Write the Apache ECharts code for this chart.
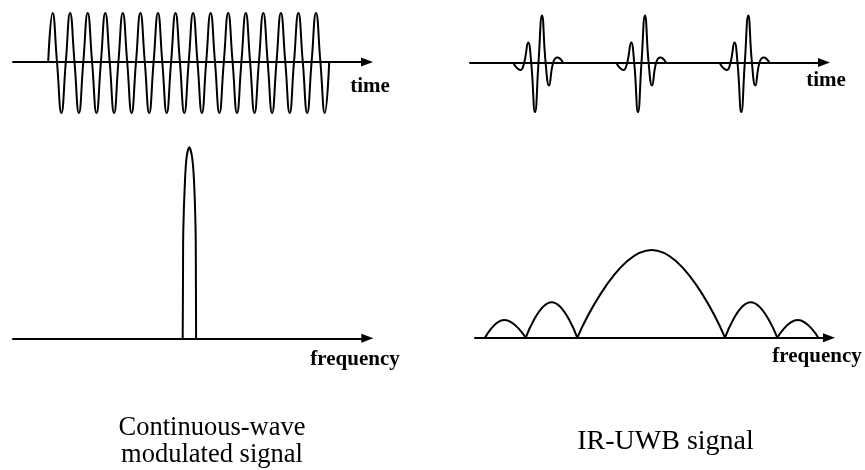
<!DOCTYPE html>
<html><head><meta charset="utf-8">
<script src="https://cdn.jsdelivr.net/npm/echarts@6/dist/echarts.min.js"></script>
<style>html,body{margin:0;padding:0;background:#fff}#chart{width:865px;height:470px}</style>
</head><body><div id="chart"></div>
<script>
// ---- Continuous-wave signal in time ----
const cwZeroTimes = [48.2, 57.0, 65.8, 74.5, 83.3, 92.1, 100.9, 109.7, 118.4, 127.2, 136.0, 144.8, 153.6, 162.3, 171.1, 179.9, 188.7, 197.5, 206.2, 215.0, 223.8, 232.6, 241.4, 250.1, 258.9, 267.7, 276.5, 285.3, 294.0, 302.8, 311.6, 320.4, 329.2];
const cwPeakTimes = [52.6, 70.1, 87.7, 105.3, 122.8, 140.4, 158.0, 175.5, 193.1, 210.6, 228.2, 245.8, 263.3, 280.9, 298.4, 316.0];
const cwTroughTimes = [61.4, 78.9, 96.5, 114.1, 131.6, 149.2, 166.7, 184.3, 201.9, 219.4, 237.0, 254.5, 272.1, 289.7, 307.2, 324.8];
const cwPeakAmp = 49;
const cwTroughAmp = -51;

// ---- IR-UWB pulses in time ----
const pulseCenters = [542, 645, 748.3];
const pulseShapeT = [-29, -21.5, -17.8, -13.8, -10.8, -7, -3.5, 0, 3.6, 7, 11.2, 15.3, 21];
const pulseShapeV = [0, -7.5, 0, 20, 0, -49.5, 0, 47, 0, -23, 0, 5, 0];

// ---- Continuous-wave spectrum (narrow line) ----
const cwSpecFreq = [182.7, 183.0, 183.3, 185.0, 186.7, 189.3, 192.0, 194.0, 195.6, 195.9, 196.1];
const cwSpecMag  = [0, 60, 108, 158, 181.6, 191, 181.6, 158, 108, 60, 0];

// ---- IR-UWB spectrum lobes ----
const lobeStart = [485, 525.7, 577.3, 725, 777.3];
const lobePeak  = [504.3, 551.7, 651.7, 750.7, 797.7];
const lobeEnd   = [525.7, 577.3, 725, 777.3, 818.3];
const lobeMag   = [17.7, 35.4, 87.7, 35.4, 17.7];

// ---- Texts ----
const axisNames = ['time', 'time', 'frequency', 'frequency'];
const captions = [['Continuous-wave', 'modulated signal'], ['IR-UWB signal']];

const cwData = [];
cwZeroTimes.forEach(t => cwData.push([t, 0]));
cwPeakTimes.forEach(t => cwData.push([t, cwPeakAmp]));
cwTroughTimes.forEach(t => cwData.push([t, cwTroughAmp]));
cwData.sort((a, b) => a[0] - b[0]);

const LINE = {color: '#000', width: 2};
function xAx(gi, min, max) {
  return {type: 'value', gridIndex: gi, min: min, max: max,
    axisLine: {show: true, onZero: true, symbol: ['none', 'triangle'], symbolSize: [9, 12],
      lineStyle: {color: '#000', width: 2}},
    axisTick: {show: false}, axisLabel: {show: false}, splitLine: {show: false}};
}
function yAx(gi, min, max) {
  return {type: 'value', gridIndex: gi, min: min, max: max, show: false,
    axisLine: {show: false}, splitLine: {show: false}};
}
function lineSeries(gi, data, smooth) {
  return {type: 'line', xAxisIndex: gi, yAxisIndex: gi, data: data, smooth: smooth,
    showSymbol: false, clip: false, lineStyle: LINE, silent: true};
}

const series = [];
series.push(lineSeries(0, cwData, 0.5));
pulseCenters.forEach(c => {
  series.push(lineSeries(1, pulseShapeT.map((dt, i) => [c + dt, pulseShapeV[i]]), 0.5));
});
series.push(lineSeries(2, cwSpecFreq.map((f, i) => [f, cwSpecMag[i]]), 0.3));
lobeStart.forEach((s, i) => {
  series.push(lineSeries(3, [[s, 0], [lobePeak[i], lobeMag[i]], [lobeEnd[i], 0]], 0.5));
});

const serif = '"Liberation Serif", "Times New Roman", serif';
function txt(text, x, y, font) {
  return {type: 'text', x: x, y: y, silent: true,
    style: {text: text, fill: '#000', font: font, align: 'center', verticalAlign: 'middle'}};
}

const option = {
  animation: false,
  backgroundColor: '#fff',
  grid: [
    {left: 13, top: 12, width: 354, height: 102},
    {left: 470, top: 12.5, width: 354, height: 102},
    {left: 13, top: 140, width: 354.3, height: 208.3},
    {left: 475, top: 240, width: 354, height: 107.7}
  ],
  xAxis: [xAx(0, 13, 367), xAx(1, 470, 824), xAx(2, 13, 367.3), xAx(3, 475, 829)],
  yAxis: [yAx(0, -52, 50), yAx(1, -52, 50), yAx(2, -10, 198.3), yAx(3, -10, 97.7)],
  series: series,
  graphic: [
    txt(axisNames[0], 370, 86.5, 'bold 21px ' + serif),
    txt(axisNames[1], 826, 81, 'bold 21px ' + serif),
    txt(axisNames[2], 355, 360, 'bold 21px ' + serif),
    txt(axisNames[3], 817, 357, 'bold 21px ' + serif),
    txt(captions[0][0], 212, 428, '26.5px ' + serif),
    txt(captions[0][1], 212, 455, '26.5px ' + serif),
    txt(captions[1][0], 665.5, 442, '28px ' + serif)
  ]
};
const chart = echarts.init(document.getElementById('chart'), null, {renderer: 'canvas'});
chart.setOption(option);
</script></body></html>
